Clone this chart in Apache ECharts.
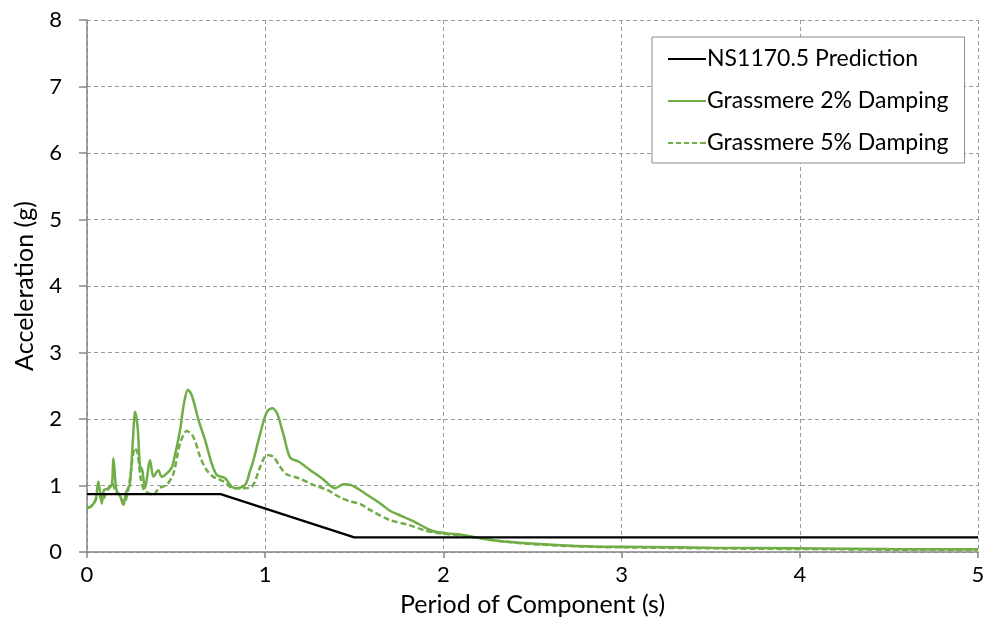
<!DOCTYPE html>
<html>
<head>
<meta charset="utf-8">
<style>
  html, body { margin: 0; padding: 0; background: #fff; }
  #chart { width: 994px; height: 644px; }
</style>
<script src="https://cdn.jsdelivr.net/npm/echarts@6/dist/echarts.min.js"></script>
</head>
<body>
<div id="chart"></div>
<script>
// Design spectrum (straight segments between corner periods)
const nsPeriod = [0, 0.75, 1.5, 5];
const nsAccel  = [0.87, 0.87, 0.22, 0.22];

// Grassmere record, 2% damping
const g2Period = [0.00, 0.02, 0.04, 0.05, 0.064, 0.083, 0.095, 0.124, 0.14, 0.148, 0.165, 0.185, 0.204, 0.22, 0.24, 0.258, 0.27, 0.285, 0.297, 0.31, 0.326, 0.354, 0.373, 0.40, 0.42, 0.466, 0.48, 0.522, 0.545, 0.567, 0.588, 0.626, 0.663, 0.70, 0.728, 0.775, 0.813, 0.84, 0.888, 0.916, 0.934, 0.972, 1.01, 1.04, 1.066, 1.103, 1.14, 1.187, 1.253, 1.318, 1.393, 1.44, 1.478, 1.515, 1.571, 1.646, 1.70, 1.749, 1.833, 1.936, 2.02, 2.10, 2.20, 2.30, 2.47, 2.66, 2.87, 3.0, 3.5, 4.0, 4.5, 5.0];
const g2Accel  = [0.66, 0.68, 0.74, 0.80, 1.06, 0.73, 0.93, 0.96, 1.02, 1.41, 0.93, 0.85, 0.71, 0.90, 1.01, 1.70, 2.11, 1.85, 1.30, 1.23, 0.96, 1.38, 1.13, 1.23, 1.13, 1.23, 1.30, 1.83, 2.25, 2.44, 2.36, 1.98, 1.68, 1.33, 1.16, 1.11, 0.98, 0.96, 1.01, 1.23, 1.38, 1.78, 2.11, 2.16, 2.09, 1.76, 1.42, 1.36, 1.23, 1.11, 0.96, 1.02, 1.01, 0.96, 0.86, 0.73, 0.62, 0.56, 0.46, 0.32, 0.28, 0.26, 0.21, 0.17, 0.13, 0.10, 0.08, 0.08, 0.065, 0.055, 0.045, 0.04];

// Grassmere record, 5% damping
const g5Period = [0.00, 0.02, 0.04, 0.067, 0.086, 0.114, 0.142, 0.161, 0.185, 0.208, 0.236, 0.255, 0.268, 0.283, 0.30, 0.32, 0.348, 0.373, 0.404, 0.447, 0.485, 0.522, 0.56, 0.597, 0.635, 0.672, 0.71, 0.766, 0.82, 0.878, 0.925, 0.972, 1.01, 1.047, 1.084, 1.12, 1.187, 1.27, 1.35, 1.42, 1.478, 1.534, 1.59, 1.70, 1.80, 1.89, 1.98, 2.10, 2.20, 2.30, 2.47, 2.66, 2.87, 3.0, 3.5, 4.0, 4.5, 5.0];
const g5Accel  = [0.66, 0.68, 0.74, 0.86, 0.78, 0.93, 1.03, 0.91, 0.85, 0.73, 1.01, 1.40, 1.56, 1.50, 1.13, 0.93, 0.88, 0.86, 0.96, 1.01, 1.18, 1.63, 1.82, 1.73, 1.43, 1.23, 1.13, 1.06, 0.96, 0.96, 0.98, 1.28, 1.46, 1.43, 1.28, 1.17, 1.11, 1.01, 0.93, 0.82, 0.76, 0.72, 0.63, 0.48, 0.41, 0.33, 0.28, 0.25, 0.21, 0.17, 0.125, 0.095, 0.075, 0.07, 0.055, 0.045, 0.035, 0.03];

const xTicks = [0, 1, 2, 3, 4, 5];
const yTicks = [0, 1, 2, 3, 4, 5, 6, 7, 8];

const zip = (xs, ys) => xs.map((x, i) => [x, ys[i]]);

const GREEN = '#70AD47';
const FONT = 'Lato';

// Legend keys: a solid bar and a dashed bar
const SOLID_KEY = 'path://M0,0h38v2h-38z';
const DASH_KEY = 'path://M0,0h5v2h-5zM8,0h5v2h-5zM16,0h5v2h-5zM24,0h5v2h-5zM32,0h6v2h-6z';

const chart = echarts.init(document.getElementById('chart'), null, { renderer: 'canvas' });
chart.setOption({
  animation: false,
  backgroundColor: '#ffffff',
  textStyle: { fontFamily: FONT },
  grid: { left: 87, right: 16, top: 20, bottom: 92 },
  legend: {
    orient: 'vertical',
    left: 652,
    top: 37,
    padding: [10, 16, 8, 16],
    itemWidth: 38,
    itemHeight: 2,
    itemGap: 18,
    backgroundColor: '#ffffff',
    borderColor: '#8c8c8c',
    borderWidth: 1,
    textStyle: { fontFamily: FONT, fontSize: 23, lineHeight: 24, color: '#000', padding: [0, 0, 0, -4] },
    data: [
      { name: 'NS1170.5 Prediction', icon: SOLID_KEY, itemStyle: { color: '#000000' } },
      { name: 'Grassmere 2% Damping', icon: SOLID_KEY, itemStyle: { color: GREEN } },
      { name: 'Grassmere 5% Damping', icon: DASH_KEY, itemStyle: { color: GREEN } }
    ]
  },
  xAxis: {
    type: 'value',
    min: xTicks[0],
    max: xTicks[xTicks.length - 1],
    interval: 1,
    name: 'Period of Component (s)',
    nameLocation: 'middle',
    nameGap: 40,
    nameTextStyle: { fontFamily: FONT, fontSize: 25, color: '#000' },
    axisLine: { show: true, lineStyle: { color: '#868686', width: 1.5 } },
    axisTick: { show: true, length: 6, lineStyle: { color: '#868686', width: 1.5 } },
    axisLabel: { fontFamily: FONT, fontSize: 22, color: '#000', margin: 12 },
    splitLine: { show: true, lineStyle: { color: '#9a9a9a', type: [4, 3], width: 1 } }
  },
  yAxis: {
    type: 'value',
    min: yTicks[0],
    max: yTicks[yTicks.length - 1],
    interval: 1,
    name: 'Acceleration (g)',
    nameLocation: 'middle',
    nameGap: 50,
    nameTextStyle: { fontFamily: FONT, fontSize: 25, color: '#000' },
    axisLine: { show: true, lineStyle: { color: '#868686', width: 1.5 } },
    axisTick: { show: true, length: 8, lineStyle: { color: '#868686', width: 1.5 } },
    axisLabel: { fontFamily: FONT, fontSize: 22, color: '#000', margin: 25 },
    splitLine: { show: true, lineStyle: { color: '#9a9a9a', type: [4, 3], width: 1 } }
  },
  series: [
    {
      name: 'NS1170.5 Prediction',
      type: 'line',
      data: zip(nsPeriod, nsAccel),
      symbol: 'none',
      lineStyle: { color: '#000000', width: 2.2 },
      itemStyle: { color: '#000000' },
      z: 3
    },
    {
      name: 'Grassmere 2% Damping',
      type: 'line',
      data: zip(g2Period, g2Accel),
      symbol: 'none',
      smooth: 0.3,
      lineStyle: { color: GREEN, width: 2.5 },
      itemStyle: { color: GREEN },
      z: 2
    },
    {
      name: 'Grassmere 5% Damping',
      type: 'line',
      data: zip(g5Period, g5Accel),
      symbol: 'none',
      smooth: 0.3,
      lineStyle: { color: GREEN, width: 2.5, type: [6, 3] },
      itemStyle: { color: GREEN },
      z: 2
    }
  ]
});
</script>
</body>
</html>
